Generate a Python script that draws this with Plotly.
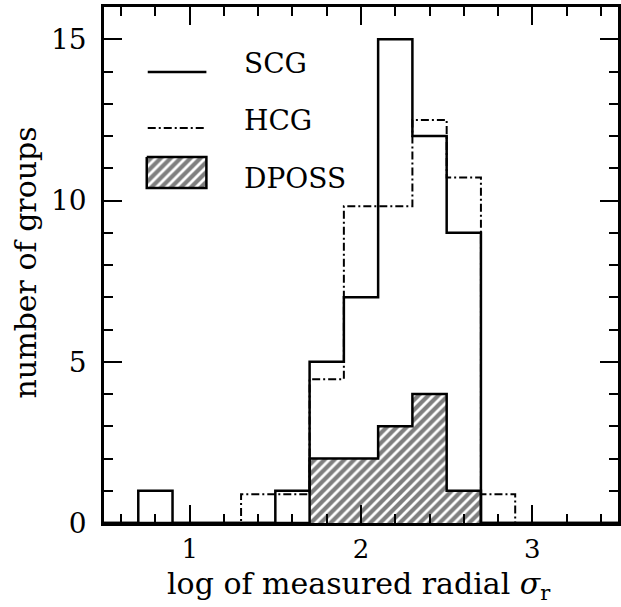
import plotly.graph_objects as go

# bin left edges (width 0.2) and counts
bin_edges = [0.5, 0.7, 0.9, 1.1, 1.3, 1.5, 1.7, 1.9, 2.1, 2.3, 2.5, 2.7, 2.9, 3.1, 3.3, 3.5]
scg =   [0, 1, 0, 0, 0, 1, 5, 7, 15, 12, 9, 0, 0, 0, 0]
hcg =   [0, 0, 0, 0, 0.89, 0.89, 4.46, 9.82, 9.82, 12.5, 10.71, 0.89, 0, 0, 0]
dposs = [0, 0, 0, 0, 0, 0, 2, 2, 3, 4, 1, 0, 0, 0, 0]

x_ticks = [1, 2, 3]
y_ticks = [0, 5, 10, 15]

FONT = "DejaVu Serif, serif"
W, H = 621, 607
L, R, T, B = 104, 0, 7, 84

def step(vals):
    return list(bin_edges), list(vals) + [vals[-1]]

def px(xp):
    return (xp - L) / (W - L - R)

def py(yp):
    return (H - B - yp) / (H - B - T)

centers = [(bin_edges[i] + bin_edges[i + 1]) / 2 for i in range(len(dposs))]
HATCH = dict(shape="/", fgcolor="black", bgcolor="white", size=7, solidity=0.6)

fig = go.Figure()

fig.add_trace(go.Bar(
    x=centers, y=dposs, width=0.2,
    marker=dict(color="white", line=dict(width=0), pattern=HATCH),
    showlegend=False, hoverinfo="skip"))

sx, sy = step(dposs)
fig.add_trace(go.Scatter(x=sx, y=sy, mode="lines", line=dict(color="black", width=2.5, shape="hv"),
                         showlegend=False))
sx, sy = step(hcg)
fig.add_trace(go.Scatter(x=sx, y=sy, mode="lines",
                         line=dict(color="black", width=2, shape="hv", dash="8px,3px,2px,3px"),
                         showlegend=False))
sx, sy = step(scg)
fig.add_trace(go.Scatter(x=sx, y=sy, mode="lines", line=dict(color="black", width=2.5, shape="hv"),
                         showlegend=False))

# legend drawn on an overlay axis in pixel-like units
fig.add_trace(go.Scatter(x=[148, 207], y=[72, 72], mode="lines", xaxis="x2", yaxis="y2",
                         line=dict(color="black", width=2.5), showlegend=False))
fig.add_trace(go.Scatter(x=[148, 207], y=[128, 128], mode="lines", xaxis="x2", yaxis="y2",
                         line=dict(color="black", width=2, dash="8px,3px,2px,3px"), showlegend=False))
fig.add_trace(go.Scatter(x=[147, 207, 207, 147, 147], y=[157, 157, 188, 188, 157], mode="lines",
                         xaxis="x2", yaxis="y2", fill="toself", fillcolor="white",
                         fillpattern=HATCH,
                         line=dict(color="black", width=2.5), showlegend=False))

for txt, yy in [("SCG", 64), ("HCG", 121), ("DPOSS", 178)]:
    fig.add_annotation(x=px(243), y=py(yy), xref="paper", yref="paper", text=txt, showarrow=False,
                       xanchor="left", yanchor="middle", font=dict(family=FONT, size=28, color="black"))

fig.add_annotation(x=px(360), y=py(585), xref="paper", yref="paper",
                   text="log of measured radial <i>σ</i><sub>r</sub>",
                   showarrow=False, xanchor="center", yanchor="middle",
                   font=dict(family=FONT, size=30, color="black"))
fig.add_annotation(x=px(25), y=py(262), xref="paper", yref="paper", text="number of groups", textangle=-90,
                   showarrow=False, xanchor="center", yanchor="middle",
                   font=dict(family=FONT, size=30, color="black"))

axis_common = dict(showline=True, linecolor="black", linewidth=2.5, mirror="ticks",
                   ticks="inside", ticklen=18, tickwidth=2, tickcolor="black",
                   showgrid=False, zeroline=False)

fig.update_layout(
    width=W, height=H,
    margin=dict(l=L, r=R, t=T, b=B),
    paper_bgcolor="white", plot_bgcolor="white",
    bargap=0,
    xaxis=dict(range=[0.5, 3.5], tickvals=x_ticks, ticklabelstandoff=1,
               tickfont=dict(family=FONT, size=26, color="black"),
               minor=dict(dtick=0.2, tick0=0, ticks="inside", ticklen=9, tickwidth=2, tickcolor="black"),
               **axis_common),
    yaxis=dict(range=[0, 16], tickvals=y_ticks, ticklabelstandoff=9,
               tickfont=dict(family=FONT, size=28, color="black"),
               minor=dict(dtick=1, tick0=0, ticks="inside", ticklen=9, tickwidth=2, tickcolor="black"),
               **axis_common),
    xaxis2=dict(range=[L, W - R], overlaying="x", visible=False, fixedrange=True),
    yaxis2=dict(range=[H - B, T], overlaying="y", visible=False, fixedrange=True),
)

fig.write_html("out.html", config={"displayModeBar": False},
               post_script="document.body.style.margin='0';document.body.style.overflow='hidden';")
